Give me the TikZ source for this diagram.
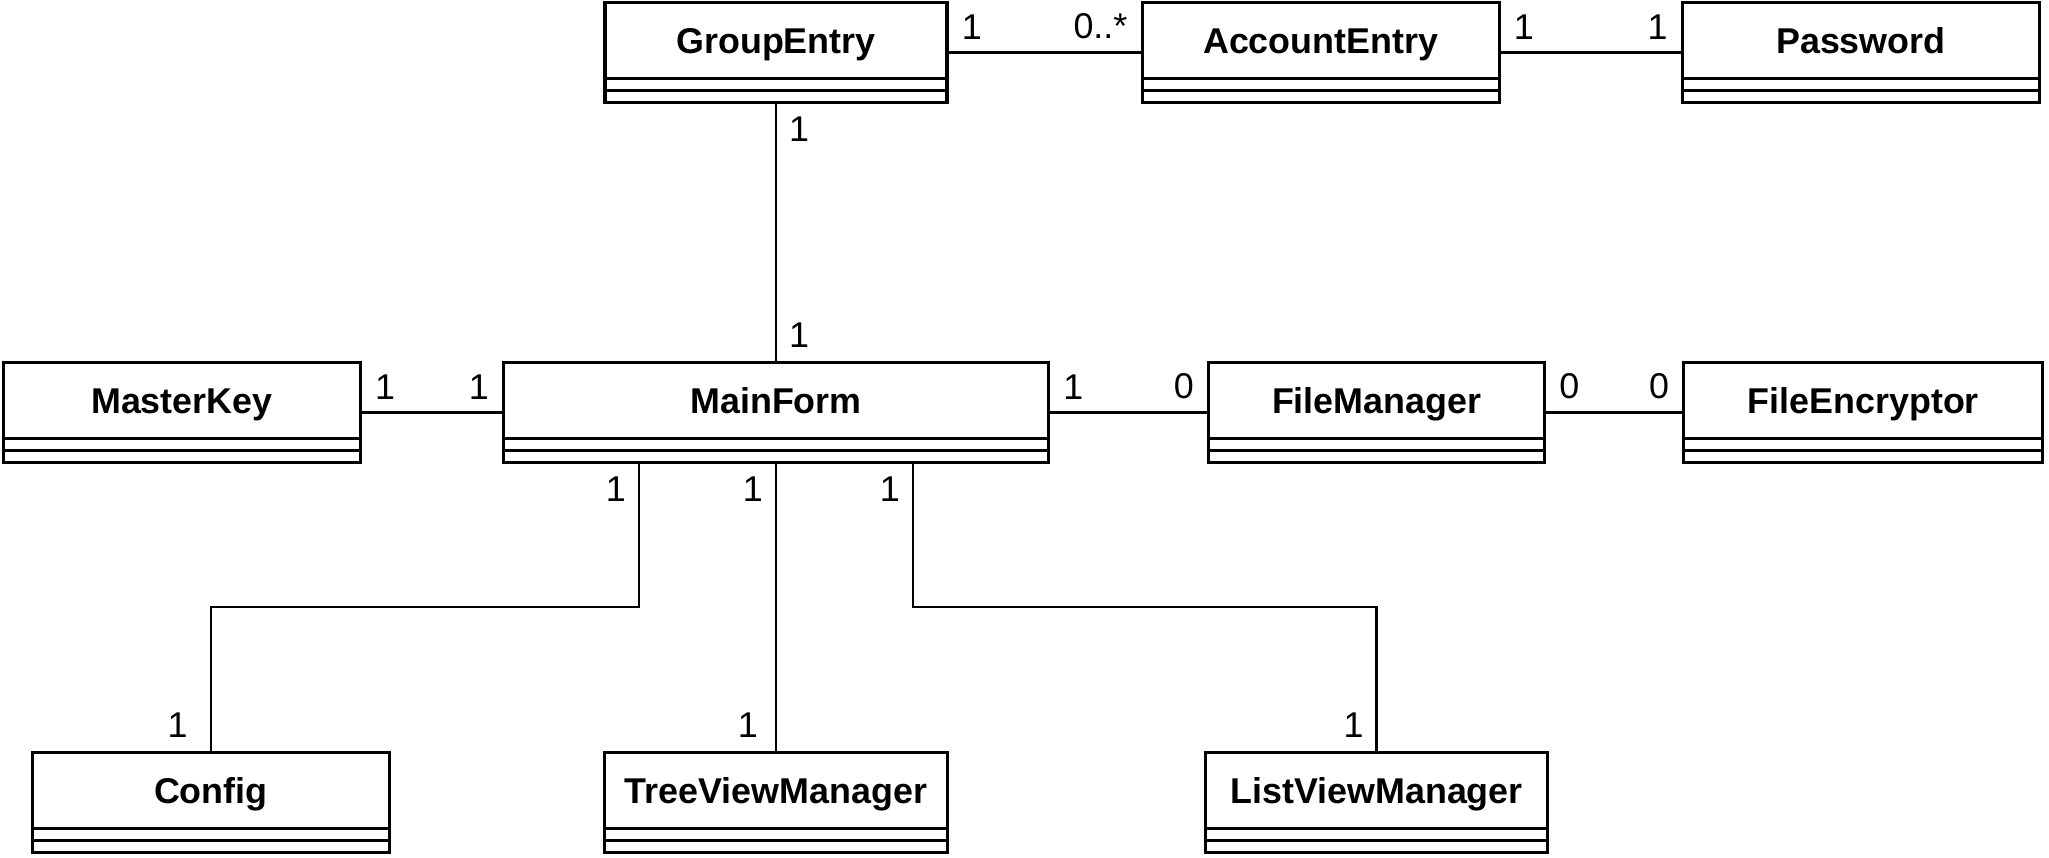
\documentclass[tikz,border=0pt]{standalone}
\usepackage{fontspec}
\setmainfont{Liberation Sans}
\usetikzlibrary{positioning,calc}

\begin{document}
\begin{tikzpicture}[
    node distance=1.5cm,
    umlclass/.style={rectangle, draw, line width=0.9pt, minimum height=1.0cm, inner sep=0pt,
        font=\fontsize{10.2}{12}\selectfont\bfseries, text height=0.3cm, text depth=0.28cm,
        path picture={
            \draw[line width=0.9pt] ([yshift=0.12cm]path picture bounding box.south west) -- ([yshift=0.12cm]path picture bounding box.south east);
            \draw[line width=0.9pt] ([yshift=0.24cm]path picture bounding box.south west) -- ([yshift=0.24cm]path picture bounding box.south east);
        }},
    assoc/.style={line width=0.7pt},
    mult/.style={font=\fontsize{10.2}{12}\selectfont, inner sep=0.12cm}
]
\useasboundingbox (0,0) rectangle (20.49,8.58);

\node[umlclass, minimum width=5.45cm] (mainform) at (7.76,4.455) {MainForm};
\node[umlclass, minimum width=3.42cm, above=2.57cm of mainform] (groupentry) {GroupEntry};
\node[umlclass, minimum width=3.57cm, right=1.92cm of groupentry] (accountentry) {AccountEntry};
\node[umlclass, minimum width=3.57cm, right=1.8cm of accountentry] (password) {Password};
\node[umlclass, minimum width=3.57cm, left=1.4cm of mainform] (masterkey) {MasterKey};
\node[umlclass, minimum width=3.36cm, right=1.57cm of mainform] (filemanager) {FileManager};
\node[umlclass, minimum width=3.59cm, right=1.36cm of filemanager] (fileencryptor) {FileEncryptor};
\node[umlclass, minimum width=3.57cm, below=2.87cm of masterkey, xshift=0.29cm] (config) {Config};
\node[umlclass, minimum width=3.43cm, below=2.87cm of mainform] (treeview) {TreeViewManager};
\node[umlclass, minimum width=3.42cm, below=2.87cm of filemanager] (listview) {ListViewManager};

\draw[assoc] (groupentry) -- (accountentry) node[mult, pos=0, above right] {1} node[mult, pos=1, above left] {0..*};
\draw[assoc] (accountentry) -- (password) node[mult, pos=0, above right] {1} node[mult, pos=1, above left] {1};
\draw[assoc] (groupentry) -- (mainform) node[mult, pos=0, below right] {1} node[mult, pos=1, above right] {1};
\draw[assoc] (masterkey) -- (mainform) node[mult, pos=0, above right] {1} node[mult, pos=1, above left] {1};
\draw[assoc] (mainform) -- (filemanager) node[mult, pos=0, above right] {1} node[mult, pos=1, above left] {0};
\draw[assoc] (filemanager) -- (fileencryptor) node[mult, pos=0, above right] {0} node[mult, pos=1, above left] {0};

\draw[assoc] ($(mainform.south west)!0.25!(mainform.south east)$) node[mult, below left] {1}
    -- ++(0,-1.43) -| (config.north) node[mult, above left, xshift=-0.1cm] {1};
\draw[assoc] (mainform) -- (treeview) node[mult, pos=0, below left] {1} node[mult, pos=1, above left, xshift=-0.05cm] {1};
\draw[assoc] ($(mainform.south west)!0.75!(mainform.south east)$) node[mult, below left] {1}
    -- ++(0,-1.43) -| (listview.north) node[mult, above left] {1};

\end{tikzpicture}
\end{document}
